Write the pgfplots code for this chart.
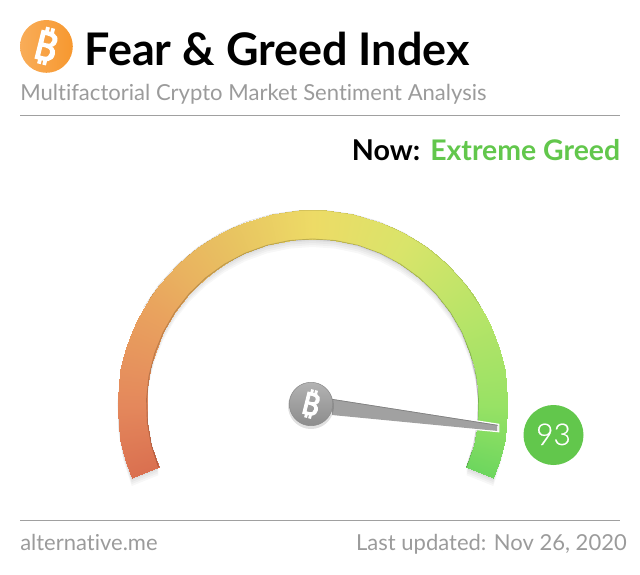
\documentclass[border=0pt]{standalone}
\usepackage{pgfplots}
\usepackage{pgfplotstable}
\pgfplotsset{compat=1.18}
\usepackage{fontspec}
\setmainfont{Lato}[Ligatures=NoCommon]
\newfontfamily\btcfont{Noto Sans}[FakeBold=3]
\newfontfamily\latolight{Lato Light}[FakeBold=0.5]
\definecolor{txtgray}{HTML}{9B9B9B}
\definecolor{rulegray}{HTML}{A0A0A0}
\definecolor{greedgreen}{HTML}{62C74C}
\definecolor{btcorange}{HTML}{F7982F}
\pgfplotstableread{
a r
202 195
198 195
194 195
190 195
186 195
182 195
178 195
174 195
170 195
166 195
162 195
158 195
154 195
150 195
146 195
142 195
138 195
134 195
130 195
126 195
122 195
118 195
114 195
110 195
106 195
102 195
98 195
94 195
90 195
86 195
82 195
78 195
74 195
70 195
66 195
62 195
58 195
54 195
50 195
46 195
42 195
38 195
34 195
30 195
26 195
22 195
18 195
14 195
10 195
6 195
2 195
-2 195
-6 195
-10 195
-14 195
-18 195
-22 195
202 166
198 166
194 166
190 166
186 166
182 166
178 166
174 166
170 166
166 166
162 166
158 166
154 166
150 166
146 166
142 166
138 166
134 166
130 166
126 166
122 166
118 166
114 166
110 166
106 166
102 166
98 166
94 166
90 166
86 166
82 166
78 166
74 166
70 166
66 166
62 166
58 166
54 166
50 166
46 166
42 166
38 166
34 166
30 166
26 166
22 166
18 166
14 166
10 166
6 166
2 166
-2 166
-6 166
-10 166
-14 166
-18 166
-22 166
}\gaugetable
\pgfplotstableread{
a r
202 166
194 166
186 166
178 166
170 166
162 166
154 166
146 166
138 166
130 166
122 166
114 166
106 166
98 166
90 166
82 166
74 166
66 166
58 166
50 166
42 166
34 166
26 166
18 166
10 166
2 166
-6 166
-14 166
-22 166
}\innertable
\pgfplotstableread{
a r
150 195
142 195
134 195
126 195
118 195
110 195
102 195
94 195
86 195
78 195
70 195
62 195
54 195
46 195
38 195
30 195
}\toptable
\pgfplotstableread{
a r
202 195
194 195
186 195
178 195
170 195
162 195
154 195
146 195
138 195
130 195
122 195
114 195
106 195
98 195
90 195
82 195
74 195
66 195
58 195
50 195
42 195
34 195
26 195
18 195
10 195
2 195
-6 195
-14 195
-22 195
-22 166
-14 166
-6 166
2 166
10 166
18 166
26 166
34 166
42 166
50 166
58 166
66 166
74 166
82 166
90 166
98 166
106 166
114 166
122 166
130 166
138 166
146 166
154 166
162 166
170 166
178 166
186 166
194 166
202 166
202 195
}\outlinetable
\pgfplotstableread{
a r
0 1
10 1
20 1
30 1
40 1
50 1
60 1
70 1
80 1
90 1
100 1
110 1
120 1
130 1
140 1
150 1
160 1
170 1
180 1
190 1
200 1
210 1
220 1
230 1
240 1
250 1
260 1
270 1
280 1
290 1
300 1
310 1
320 1
330 1
340 1
350 1
}\circletable
\pgfplotsset{
  table/gaugexy/.style={x expr=312.5+\thisrow{r}*cos(\thisrow{a}), y expr=#1-\thisrow{r}*sin(\thisrow{a})},
  table/circ/.style args={#1:#2:#3}{x expr=#1+#3*\thisrow{r}*cos(\thisrow{a}), y expr=#2-#3*\thisrow{r}*sin(\thisrow{a})},
  page/.style={
    at={(0,0)}, anchor=south west,
    width=480pt, height=431.25pt, scale only axis,
    xmin=0, xmax=640, ymin=0, ymax=575, y dir=reverse,
    hide axis, clip=false},
}
\begin{document}
\begin{tikzpicture}
\begin{axis}[
  page,
  colormap={gauge}{
    rgb255(0)=(218,112,80)
    rgb255(22)=(228,136,92)
    rgb255(52)=(233,162,94)
    rgb255(67)=(233,178,96)
    rgb255(87)=(232,196,97)
    rgb255(112)=(237,219,102)
    rgb255(142)=(217,228,106)
    rgb255(172)=(184,228,104)
    rgb255(202)=(152,226,101)
    rgb255(224)=(109,214,94)
  },
  point meta min=0, point meta max=224,
]
% drop shadow of the gauge
\addplot[draw=none, fill=black, fill opacity=0.03, forget plot] table[gaugexy=413] {\outlinetable};
\addplot[draw=none, fill=black, fill opacity=0.03, forget plot] table[gaugexy=411] {\outlinetable};
\addplot[draw=none, fill=black, fill opacity=0.035, forget plot] table[gaugexy=409] {\outlinetable};
\addplot[draw=none, fill=black, fill opacity=0.04, forget plot] table[gaugexy=407] {\outlinetable};
% gauge band
\addplot[surf, shader=interp, mesh/cols=57, point meta={202-\thisrow{a}}, forget plot]
  table[gaugexy=405] {\gaugetable};
% edges
\addplot[draw=black, opacity=0.2, line width=0.7pt, forget plot] table[gaugexy=405] {\innertable};
\addplot[draw=black, opacity=0.15, line width=0.4pt, forget plot] table[gaugexy=405] {\toptable};
% needle
\addplot[draw=white, line width=1.2pt, fill=white, forget plot] coordinates {(332,398.5) (498.5,424.5) (498.5,431.5) (332,415.5)} -- cycle;
\addplot[draw=none, fill=black!37, forget plot] coordinates {(332,399) (498,425) (498,431) (332,415)} -- cycle;
\addplot[draw=black!50, line width=0.5pt, forget plot] coordinates {(332,399.3) (497,425.2)};
\addplot[draw=black!8, line width=1.2pt, forget plot] coordinates {(497.5,425.5) (497.5,430.5)};
% hub
\addplot[draw=none, fill=black, fill opacity=0.12, forget plot] table[circ=311:406:23] {\circletable} -- cycle;
\addplot[draw=black!45, line width=0.4pt, top color=black!30, bottom color=black!45, forget plot] table[circ=311:404:21.7] {\circletable} -- cycle;
% value badge
\addplot[draw=none, fill=greedgreen, forget plot] table[circ=553.5:435:30] {\circletable} -- cycle;
% logo
\addplot[draw=none, left color=btcorange!80!white, right color=btcorange, forget plot] table[circ=46.4:46.4:26.4] {\circletable} -- cycle;
% rules
\addplot[rulegray, line width=0.75pt, forget plot] coordinates {(20,115.5) (620,115.5)};
\addplot[rulegray, line width=0.75pt, forget plot] coordinates {(20,520.5) (620,520.5)};
\path[use as bounding box] (axis cs:0,0) rectangle (axis cs:640,575);
\end{axis}
\begin{axis}[page]
% text
\node[anchor=base west, inner sep=0pt, font=\fontsize{33.7}{40}\selectfont\bfseries] at (axis cs:84.5,65) {Fear \& Greed Index};
\node[anchor=base west, inner sep=0pt, text=txtgray, font=\fontsize{16.55}{20}\selectfont] at (axis cs:20,100) {Multifactorial Crypto Market Sentiment Analysis};
\node[anchor=base east, inner sep=0pt, font=\fontsize{21.5}{26}\selectfont\bfseries] at (axis cs:420.5,160) {Now:};
\node[anchor=base east, inner sep=0pt, text=greedgreen, font=\fontsize{21.3}{26}\selectfont\bfseries] at (axis cs:620.5,160) {Extreme Greed};
\node[anchor=base, inner sep=0pt, text=white, font=\latolight\fontsize{22.5}{26}\selectfont] at (axis cs:553.5,445) {93};
\node[anchor=base west, inner sep=0pt, text=txtgray, font=\fontsize{16.5}{20}\selectfont] at (axis cs:20,550) {alternative.me};
\node[anchor=base east, inner sep=0pt, text=txtgray, font=\fontsize{16.5}{20}\selectfont] at (axis cs:627,550) {Last updated: Nov 26, 2020};
\node[rotate=-14, inner sep=0pt, text=white, font=\btcfont\fontsize{30}{30}\selectfont] at (axis cs:46,46) {₿};
\node[rotate=-14, inner sep=0pt, text=white, font=\btcfont\fontsize{23}{23}\selectfont] at (axis cs:311,404) {₿};
\end{axis}
\end{tikzpicture}
\end{document}
